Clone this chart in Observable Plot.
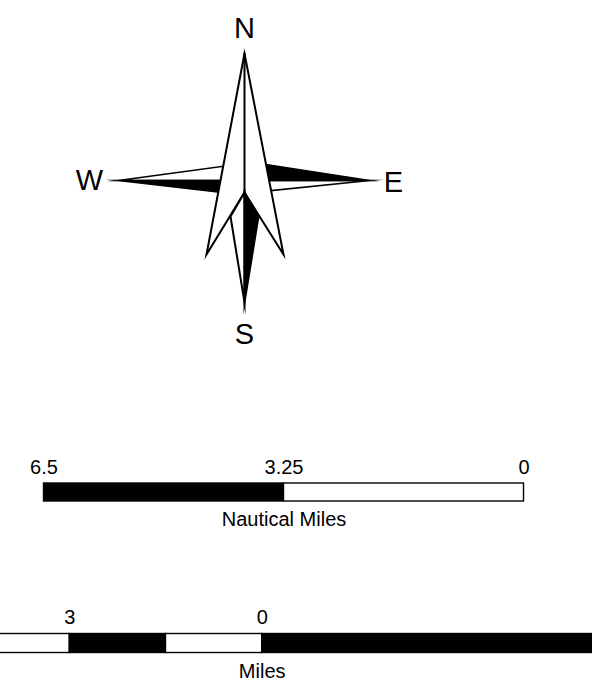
<!DOCTYPE html>
<html>
<head>
<meta charset="utf-8">
<script src="https://cdn.jsdelivr.net/npm/d3@7"></script>
<script src="https://cdn.jsdelivr.net/npm/@observablehq/plot@0.6"></script>
<style>
  html, body { margin: 0; padding: 0; background: white; overflow: hidden; }
  #chart svg { display: block; }
</style>
</head>
<body>
<div id="chart"></div>
<script>
// ---- Compass rose geometry (local units, y up, origin at rose centre) ----
const compassLabels = ["N", "E", "S", "W"];
const labelX = [0, 149, 0, -155];
const labelY = [143, -11, -163, -9];

const northDart = [[0, 127], [-38, -74], [0, -12], [39, -74]];
const northMidline = [[0, 127], [0, -12]];
const southWhiteHalf = [[0, -12], [-14, -36], [0, -122]];
const southBlackHalf = [[0, -12], [14, -36], [0, -122]];
const eastBlackHalf = [[125, 0], [12, 17.5], [0, 0]];
const eastWhiteHalf = [[125, 0], [0, 0], [12, -11.6]];
const westWhiteHalf = [[-126, 0], [-12, 15.4], [0, 0]];
const westBlackHalf = [[-126, 0], [0, 0], [-12, -13.1]];

// ---- Scale bars ----
const nauticalTicks = [6.5, 3.25, 0];
const nauticalTickLabels = ["6.5", "3.25", "0"];
const nauticalSegStart = [6.5, 3.25];
const nauticalSegEnd = [3.25, 0];
const nauticalSegFill = ["black", "white"];
const nauticalTitle = "Nautical Miles";

const milesTicks = [3, 0];
const milesTickLabels = ["3", "0"];
const milesSegStart = [4.5, 3, 1.5, 0];
const milesSegEnd = [3, 1.5, 0, -6];
const milesSegFill = ["white", "black", "white", "black"];
const milesTitle = "Miles";

const font = "'Liberation Sans', Arial, Helvetica, sans-serif";

const rows = (poly, id) => poly.map(([x, y]) => ({id, x, y}));
const polyMark = (polys, fill, sw) =>
  Plot.line(polys.flatMap((p, i) => rows(p, fill + i)), {
    x: "x", y: "y", z: "id", fill, stroke: "black", strokeWidth: sw,
    curve: "linear-closed", strokeLinejoin: "miter", strokeMiterlimit: 20
  });

const compass = Plot.plot({
  width: 592, height: 380, margin: 0,
  style: {fontFamily: font, color: "black", background: "white"},
  x: {domain: [-244, 348], range: [0, 592], axis: null},
  y: {domain: [-200, 180], range: [380, 0], axis: null},
  marks: [
    polyMark([eastWhiteHalf, westWhiteHalf], "white", 1.5),
    polyMark([eastBlackHalf, westBlackHalf], "black", 1.5),
    polyMark([northDart], "white", 2),
    Plot.line(rows(northMidline, "m"), {x: "x", y: "y", stroke: "black", strokeWidth: 2}),
    polyMark([southWhiteHalf], "white", 2),
    polyMark([southBlackHalf], "black", 2),
    Plot.text(compassLabels, {
      x: (d, i) => labelX[i], y: (d, i) => labelY[i], text: d => d,
      fontSize: 29, lineAnchor: "bottom", fill: "black"
    })
  ]
});

const nautSegs = nauticalSegStart.map((s, i) => ({s, e: nauticalSegEnd[i], f: nauticalSegFill[i]}));
const nautical = Plot.plot({
  width: 592, height: 180, margin: 0,
  style: {fontFamily: font, color: "black", background: "white"},
  x: {domain: [6.5, 0], range: [43.5, 523.5], axis: null},
  y: {domain: [0, 180], range: [0, 180], axis: null},
  marks: [
    Plot.rect(nautSegs, {x1: "s", x2: "e", y1: 103, y2: 121, fill: d => d.f, stroke: "black", strokeWidth: 1.4}),
    Plot.text(nauticalTicks, {x: d => d, y: 93, text: (d, i) => nauticalTickLabels[i], fontSize: 20, lineAnchor: "bottom", fill: "black"}),
    Plot.text([nauticalTitle], {x: 3.25, y: 145, text: d => d, fontSize: 20, lineAnchor: "bottom", fill: "black"})
  ],
  color: {type: "identity"}
});

const mileSegs = milesSegStart.map((s, i) => ({s, e: milesSegEnd[i], f: milesSegFill[i]}));
const miles = Plot.plot({
  width: 592, height: 129, margin: 0,
  style: {fontFamily: font, color: "black", background: "white"},
  x: {domain: [3, 0], range: [69.3, 261.7], axis: null},
  y: {domain: [0, 129], range: [0, 129], axis: null},
  marks: [
    Plot.rect(mileSegs, {x1: "s", x2: "e", y1: 73.5, y2: 92.5, fill: d => d.f, stroke: "black", strokeWidth: 1.4, clip: true}),
    Plot.text(milesTicks, {x: d => d, y: 63, text: (d, i) => milesTickLabels[i], fontSize: 20, lineAnchor: "bottom", fill: "black"}),
    Plot.text([milesTitle], {x: 0, y: 117, text: d => d, fontSize: 20, lineAnchor: "bottom", fill: "black"})
  ],
  color: {type: "identity"}
});

const el = document.getElementById("chart");
el.append(compass, nautical, miles);
</script>
</body>
</html>
